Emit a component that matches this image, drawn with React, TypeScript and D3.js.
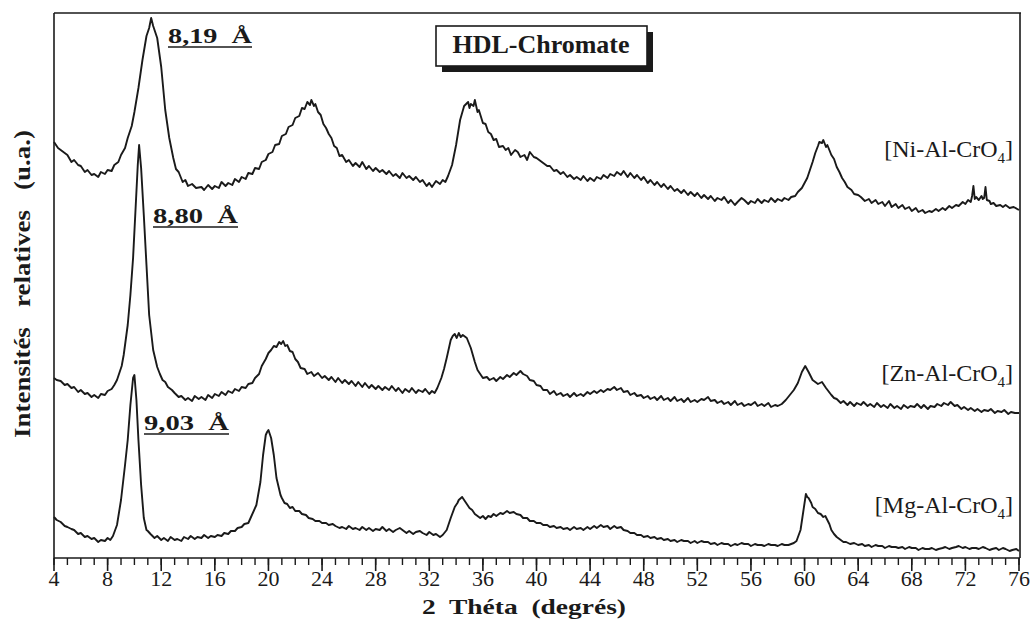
import React from "react";
import * as d3 from "d3";

// 2θ (degrés) / intensité relative (u.a., décalée par diagramme)
const niAlCrO4: [number, number][] = [
  [4.0, 416], [4.3, 410], [4.5, 408], [4.8, 405], [5.0, 403], [5.3, 396], [5.5, 398], [5.8, 393], [6.0, 392], [6.3, 386], [6.5, 388], [6.8, 383], [7.0, 384], [7.3, 381], [7.5, 386], [7.8, 384], [8.0, 388], [8.3, 387], [8.5, 393],
  [8.8, 396], [9.0, 403], [9.3, 410], [9.5, 420], [9.8, 432], [10.0, 446], [10.3, 470], [10.6, 498], [10.9, 522], [11.1, 530], [11.25, 540], [11.4, 532], [11.7, 520],
  [12.0, 491], [12.3, 448], [12.6, 420], [12.9, 400], [13.1, 389], [13.3, 386], [13.6, 376], [13.8, 378], [14.0, 372], [14.3, 374], [14.6, 370], [15.0, 371], [15.2, 368], [15.5, 373], [15.8, 369], [16.0, 372],
  [16.3, 370], [16.5, 376], [16.8, 372], [17.0, 375], [17.3, 373], [17.5, 379], [17.8, 376], [18.0, 381], [18.3, 379], [18.5, 385], [18.8, 384], [19.0, 390], [19.3, 389], [19.5, 396], [19.8, 398], [20.0, 404], [20.3, 406], [20.5, 413], [20.8, 414], [21.0, 422],
  [21.3, 424], [21.5, 431], [21.8, 433], [22.0, 440], [22.3, 442], [22.5, 450], [22.7, 449], [22.9, 456], [23.1, 453], [23.2, 458], [23.4, 452], [23.5, 454], [23.7, 446], [23.9, 443], [24.1, 434], [24.3, 430], [24.5, 424], [24.7, 420], [24.9, 412], [25.1, 410],
  [25.3, 402], [25.5, 403], [25.8, 396], [26.0, 398], [26.3, 392], [26.5, 395], [26.8, 391], [27.0, 396], [27.3, 389], [27.5, 392], [27.8, 387], [28.0, 390], [28.3, 386], [28.5, 388], [28.8, 384], [29.0, 387], [29.3, 382], [29.5, 384], [29.8, 380], [30.0, 385],
  [30.3, 380], [30.5, 382], [30.8, 378], [31.0, 381], [31.3, 376], [31.5, 378], [31.8, 372], [32.0, 375], [32.2, 371], [32.5, 377], [32.8, 374], [33.0, 378], [33.2, 376], [33.4, 382], [33.7, 393], [34.0, 413], [34.3, 438],
  [34.6, 452], [34.9, 456], [35.0, 450], [35.1, 454], [35.3, 452], [35.4, 458], [35.6, 446], [35.7, 448], [36.0, 435], [36.2, 434], [36.4, 426], [36.6, 424], [36.8, 418], [37.0, 419], [37.2, 411], [37.5, 412], [37.7, 408],
  [37.9, 410], [38.1, 403], [38.4, 408], [38.6, 406], [38.8, 401], [39.1, 403], [39.3, 398], [39.5, 406], [39.8, 401], [40.0, 400], [40.3, 397], [40.5, 395], [40.8, 392], [41.0, 392], [41.3, 387], [41.5, 388], [41.8, 384], [42.0, 386], [42.3, 381], [42.5, 383],
  [42.8, 379], [43.0, 381], [43.3, 378], [43.5, 382], [43.8, 377], [44.0, 380], [44.3, 377], [44.5, 381], [44.8, 379], [45.0, 383], [45.3, 380], [45.5, 384], [45.8, 382], [46.0, 386], [46.3, 383], [46.5, 387], [46.8, 381], [47.0, 385], [47.3, 380], [47.5, 383],
  [47.8, 378], [48.0, 381], [48.3, 375], [48.5, 378], [48.8, 373], [49.0, 376], [49.3, 371], [49.5, 374], [49.8, 369], [50.0, 372], [50.3, 367], [50.5, 369], [50.8, 365], [51.0, 368], [51.3, 363], [51.5, 366], [51.8, 362], [52.0, 365], [52.3, 360], [52.5, 363],
  [52.8, 359], [53.0, 362], [53.3, 357], [53.5, 360], [53.8, 358], [54.0, 361], [54.3, 355], [54.5, 358], [54.8, 353], [55.0, 356], [55.3, 360], [55.5, 358], [55.8, 354], [56.0, 357], [56.3, 355], [56.5, 359], [56.8, 355], [57.0, 358], [57.3, 356], [57.5, 360],
  [57.8, 356], [58.0, 359], [58.3, 357], [58.5, 360], [58.8, 358], [59.0, 361], [59.3, 362], [59.5, 366], [59.8, 370], [60.0, 375], [60.2, 380], [60.4, 388], [60.6, 396], [60.8, 405], [61.0, 412], [61.1, 416], [61.3, 415], [61.4, 418], [61.6, 411], [61.7, 413],
  [62.0, 403], [62.2, 399], [62.4, 391], [62.6, 386], [62.8, 380], [63.0, 376], [63.2, 371], [63.5, 368], [63.7, 364], [64.0, 363], [64.2, 361], [64.5, 357], [64.8, 359], [65.0, 355], [65.3, 358], [65.5, 354], [65.8, 356], [66.0, 352], [66.3, 357],
  [66.5, 351], [66.8, 354], [67.0, 350], [67.3, 353], [67.5, 349], [67.8, 351], [68.0, 347], [68.3, 350], [68.5, 346], [68.8, 348], [69.0, 345], [69.3, 347], [69.5, 346], [69.8, 349], [70.0, 347], [70.3, 350], [70.5, 348], [70.8, 352], [71.0, 350], [71.3, 353],
  [71.5, 352], [71.8, 356], [72.0, 354], [72.2, 358], [72.4, 356], [72.5, 362], [72.6, 372], [72.7, 359], [72.8, 361], [73.0, 358], [73.2, 362], [73.3, 359], [73.4, 360], [73.5, 371], [73.6, 358], [73.8, 357], [73.9, 354],
  [74.1, 355], [74.3, 352], [74.6, 353], [74.8, 351], [75.0, 353], [75.3, 350], [75.6, 351], [76.0, 348],
];

const znAlCrO4: [number, number][] = [
  [4.0, 180], [4.2, 178], [4.5, 177], [4.8, 173], [5.0, 174], [5.3, 170], [5.5, 171], [5.8, 166], [6.0, 168], [6.3, 164], [6.5, 165], [6.8, 161], [7.0, 163], [7.3, 160], [7.5, 164], [7.8, 163], [8.0, 167], [8.3, 169], [8.5, 173],
  [8.7, 178], [8.9, 186], [9.05, 192], [9.2, 203], [9.5, 233], [9.7, 263], [9.9, 300], [10.1, 353], [10.25, 393], [10.35, 413], [10.5, 390], [10.7, 343],
  [10.9, 293], [11.1, 243], [11.4, 208], [11.7, 191], [11.9, 184], [12.1, 178], [12.3, 176], [12.5, 171], [12.8, 168], [13.0, 165], [13.3, 161], [13.5, 162], [13.8, 158], [14.0, 160], [14.3, 157], [14.5, 162], [14.8, 159], [15.0, 161], [15.3, 158], [15.5, 163],
  [15.8, 160], [16.0, 164], [16.3, 162], [16.5, 166], [16.8, 163], [17.0, 167], [17.3, 165], [17.5, 169], [17.8, 167], [18.0, 171], [18.3, 170], [18.5, 174], [18.8, 175], [19.0, 180], [19.3, 184], [19.5, 192], [19.8, 199],
  [20.0, 205], [20.2, 208], [20.4, 212], [20.6, 211], [20.8, 216], [20.95, 214], [21.1, 217], [21.25, 212], [21.4, 213], [21.6, 207], [21.8, 206], [22.0, 199], [22.2, 196], [22.4, 190], [22.7, 189], [22.9, 184], [23.2, 186], [23.4, 182], [23.7, 185],
  [24.0, 180], [24.2, 182], [24.5, 178], [24.7, 181], [25.0, 176], [25.2, 180], [25.5, 175], [25.7, 178], [26.0, 174], [26.2, 177], [26.5, 172], [26.7, 176], [27.0, 171], [27.2, 175], [27.5, 170], [27.7, 173], [28.0, 169], [28.2, 172], [28.5, 168], [28.7, 171],
  [29.0, 168], [29.2, 172], [29.5, 167], [29.7, 170], [30.0, 165], [30.2, 169], [30.5, 166], [30.7, 170], [31.0, 165], [31.2, 168], [31.5, 166], [31.7, 169], [32.0, 164], [32.2, 167], [32.4, 165], [32.6, 170], [32.9, 180], [33.1, 189], [33.3, 200],
  [33.6, 218], [33.75, 222], [33.9, 224], [34.05, 220], [34.2, 225], [34.35, 221], [34.5, 223], [34.8, 220], [35.1, 210], [35.4, 196], [35.6, 188], [35.8, 184], [36.0, 180], [36.3, 181], [36.5, 178], [36.8, 180],
  [37.0, 177], [37.3, 181], [37.5, 179], [37.8, 183], [38.0, 181], [38.3, 185], [38.5, 183], [38.8, 187], [39.0, 184], [39.3, 182], [39.5, 178], [39.8, 177], [40.0, 173], [40.3, 172], [40.5, 168], [40.8, 168], [41.0, 164], [41.3, 167], [41.5, 163], [41.8, 165],
  [42.0, 162], [42.3, 164], [42.5, 161], [42.8, 165], [43.0, 162], [43.3, 164], [43.5, 162], [43.8, 166], [44.0, 164], [44.3, 167], [44.5, 165], [44.8, 168], [45.0, 166], [45.3, 169], [45.5, 168], [45.8, 171], [46.0, 168], [46.3, 170], [46.5, 166], [46.8, 167],
  [47.0, 163], [47.3, 165], [47.5, 162], [47.8, 163], [48.0, 160], [48.3, 162], [48.5, 159], [48.8, 161], [49.0, 158], [49.3, 162], [49.5, 158], [49.8, 160], [50.0, 157], [50.3, 161], [50.5, 157], [50.8, 159], [51.0, 156], [51.3, 160], [51.5, 156], [51.8, 158],
  [52.0, 156], [52.3, 159], [52.5, 158], [52.8, 161], [53.0, 157], [53.3, 158], [53.5, 155], [53.8, 157], [54.0, 154], [54.3, 156], [54.5, 153], [54.8, 157], [55.0, 153], [55.3, 155], [55.5, 152], [55.8, 154], [56.0, 153], [56.3, 156], [56.5, 152], [56.8, 154],
  [57.0, 152], [57.3, 155], [57.5, 151], [57.8, 153], [58.0, 152], [58.3, 154], [58.6, 158], [58.9, 163], [59.2, 168], [59.5, 175], [59.8, 186], [60.05, 192], [60.3, 186],
  [60.6, 178], [61.0, 174], [61.3, 176], [61.6, 170], [62.0, 163], [62.2, 160], [62.4, 159], [62.7, 155], [62.9, 157], [63.2, 153], [63.4, 156], [63.7, 152], [63.9, 155], [64.2, 153], [64.4, 156],
  [64.7, 152], [64.9, 154], [65.2, 151], [65.4, 155], [65.7, 151], [65.9, 153], [66.2, 150], [66.4, 154], [66.7, 150], [66.9, 152], [67.2, 149], [67.4, 153], [67.7, 150], [67.9, 152], [68.2, 151], [68.4, 154], [68.7, 150], [68.9, 153], [69.2, 149], [69.4, 152],
  [69.7, 151], [69.9, 154], [70.2, 152], [70.4, 155], [70.7, 153], [70.9, 156], [71.2, 152], [71.4, 153], [71.7, 149], [71.9, 151], [72.2, 148], [72.4, 150], [72.7, 147], [72.9, 149], [73.2, 146], [73.4, 148], [73.7, 147], [73.9, 149], [74.2, 145], [74.4, 147],
  [74.7, 146], [74.9, 148], [75.2, 144], [75.4, 146], [75.7, 145], [76.0, 145],
];

const mgAlCrO4: [number, number][] = [
  [4.0, 41], [4.2, 38], [4.5, 36], [4.8, 32], [5.0, 31], [5.3, 29], [5.5, 28], [5.8, 24], [6.0, 25], [6.3, 21], [6.5, 22], [6.8, 19], [7.0, 20], [7.3, 16], [7.5, 18], [7.8, 17], [8.0, 20], [8.2, 18], [8.4, 22],
  [8.7, 33], [9.0, 58], [9.3, 93], [9.5, 118], [9.7, 153], [9.9, 180], [10.0, 183], [10.15, 158], [10.3, 118], [10.5, 73],
  [10.7, 40], [10.9, 28], [11.0, 27], [11.2, 24], [11.5, 20], [11.7, 22], [12.0, 18], [12.2, 20], [12.5, 17], [12.7, 21], [13.0, 18], [13.2, 19], [13.5, 17], [13.7, 21], [14.0, 19], [14.2, 22], [14.5, 19], [14.7, 21],
  [15.0, 20], [15.2, 23], [15.5, 20], [15.7, 22], [16.0, 21], [16.2, 23], [16.5, 22], [16.7, 25], [17.0, 24], [17.2, 27], [17.5, 27], [17.7, 30], [18.0, 31], [18.2, 34], [18.5, 35], [18.7, 41], [19.1, 53], [19.4, 76],
  [19.6, 103], [19.8, 123], [19.9, 126], [20.0, 128], [20.1, 124], [20.2, 120], [20.4, 103], [20.6, 80], [20.9, 63], [21.0, 60], [21.2, 55], [21.4, 54], [21.6, 50], [21.8, 51], [22.0, 47],
  [22.3, 47], [22.5, 44], [22.8, 43], [23.0, 40], [23.3, 39], [23.5, 37], [23.8, 37], [24.0, 35], [24.3, 35], [24.5, 33], [24.8, 34], [25.0, 32], [25.3, 30], [25.5, 31], [25.8, 29], [26.0, 32], [26.3, 29], [26.5, 30], [26.8, 28], [27.0, 31],
  [27.3, 28], [27.5, 30], [27.8, 27], [28.0, 29], [28.3, 28], [28.5, 31], [28.8, 27], [29.0, 29], [29.3, 26], [29.5, 28], [29.8, 30], [30.0, 28], [30.3, 25], [30.5, 27], [30.8, 24], [31.0, 26], [31.3, 27], [31.5, 25], [31.8, 23], [32.0, 26],
  [32.3, 23], [32.5, 24], [32.8, 21], [33.0, 23], [33.3, 28], [33.6, 40], [33.9, 51], [34.1, 55], [34.2, 58], [34.45, 61], [34.7, 56], [35.0, 50], [35.2, 48], [35.4, 44], [35.6, 42],
  [35.8, 40], [36.0, 42], [36.2, 39], [36.4, 42], [36.6, 41], [36.8, 44], [37.0, 42], [37.3, 45], [37.5, 44], [37.8, 47], [38.0, 45], [38.3, 46], [38.5, 44], [38.8, 43], [39.0, 40], [39.3, 40], [39.5, 37], [39.8, 37], [40.0, 35],
  [40.3, 35], [40.5, 33], [40.8, 33], [41.0, 31], [41.3, 32], [41.5, 30], [41.8, 31], [42.0, 29], [42.3, 30], [42.5, 28], [42.8, 31], [43.0, 29], [43.3, 30], [43.5, 28], [43.8, 31], [44.0, 29], [44.3, 32], [44.5, 30], [44.8, 33], [45.0, 31],
  [45.3, 32], [45.5, 29], [45.8, 32], [46.0, 30], [46.3, 31], [46.5, 28], [46.8, 27], [47.0, 25], [47.3, 25], [47.5, 23], [47.8, 23], [48.0, 21], [48.3, 22], [48.5, 20], [48.8, 21], [49.0, 19], [49.3, 20], [49.5, 18], [49.8, 19], [50.0, 17],
  [50.3, 18], [50.5, 16], [50.8, 18], [51.0, 17], [51.3, 17], [51.5, 15], [51.8, 17], [52.0, 15], [52.3, 17], [52.5, 16], [52.8, 16], [53.0, 14], [53.3, 15], [53.5, 13], [53.8, 15], [54.0, 14], [54.3, 14], [54.5, 12], [54.8, 14], [55.0, 13],
  [55.3, 15], [55.5, 14], [55.8, 14], [56.0, 12], [56.3, 14], [56.5, 13], [56.8, 13], [57.0, 12], [57.3, 14], [57.5, 13], [57.8, 13], [58.0, 12], [58.3, 14], [58.5, 13], [58.8, 13], [59.0, 14], [59.2, 15], [59.4, 17], [59.7, 28],
  [59.9, 46], [60.1, 64], [60.2, 61], [60.3, 60], [60.5, 55], [60.6, 51], [60.8, 49], [61.0, 45], [61.2, 44], [61.4, 41], [61.55, 42], [61.7, 38], [61.85, 34], [62.0, 28], [62.2, 24], [62.4, 21], [62.6, 19], [62.9, 16],
  [63.1, 16], [63.4, 14], [63.7, 15], [64.0, 13], [64.3, 14], [64.5, 12], [64.8, 13], [65.0, 11], [65.3, 13], [65.5, 12], [65.8, 12], [66.0, 10], [66.3, 12], [66.5, 11], [66.8, 11], [67.0, 10], [67.3, 11], [67.5, 9], [67.8, 11], [68.0, 10],
  [68.3, 10], [68.5, 8], [68.8, 10], [69.0, 9], [69.3, 9], [69.5, 10], [69.8, 8], [70.0, 9], [70.3, 10], [70.5, 11], [70.8, 9], [71.0, 10], [71.3, 11], [71.5, 12], [71.8, 10], [72.0, 11], [72.3, 9], [72.5, 10], [72.8, 10], [73.0, 9],
  [73.3, 11], [73.5, 10], [73.8, 8], [74.0, 9], [74.3, 10], [74.5, 8], [74.8, 10], [75.0, 9], [75.3, 7], [75.5, 8], [75.8, 9], [76.0, 7],
];

const seriesNames = ["Ni-Al-CrO", "Zn-Al-CrO", "Mg-Al-CrO"];
const majorTicks = [4, 8, 12, 16, 20, 24, 28, 32, 36, 40, 44, 48, 52, 56, 60, 64, 68, 72, 76];
const minorTicks = d3.range(4, 77, 1);
const spacingLabels = ["8,19  Å", "8,80  Å", "9,03  Å"];

const W = 1032;
const H = 619;
const L = 54, R = 1019, T = 13, B = 558;
const FONT = '"Liberation Serif", "Times New Roman", Times, serif';
const INK = "#1a1a1a";

export default function App() {
  const x = d3.scaleLinear().domain([4, 76]).range([L, R]);
  const y = d3.scaleLinear().domain([0, 545]).range([B, T]);
  const line = d3
    .line<[number, number]>()
    .x((d) => x(d[0]))
    .y((d) => y(d[1]));

  const patterns = [niAlCrO4, znAlCrO4, mgAlCrO4];
  const seriesLabelY = [157, 381, 513];
  const spacingPos = [
    { x: 168, y: 43, w: 84 },
    { x: 153, y: 223, w: 85 },
    { x: 144, y: 430, w: 85 },
  ];
  const ts: React.CSSProperties = { fontFamily: FONT };

  return (
    <svg
      width={W}
      height={H}
      style={{ position: "absolute", left: 0, top: 0, background: "#fff", fontFamily: FONT }}
    >
      <rect x={0} y={0} width={W} height={H} fill="#fff" />
      {/* frame */}
      <line x1={L} y1={T} x2={R + 2} y2={T} stroke={INK} strokeWidth={1.6} />
      <line x1={R + 1} y1={T} x2={R + 1} y2={B} stroke={INK} strokeWidth={1.6} />
      <line x1={L} y1={T} x2={L} y2={B} stroke={INK} strokeWidth={1.6} />
      <line x1={L} y1={B} x2={R + 1} y2={B} stroke={INK} strokeWidth={1.6} />

      {/* ticks */}
      {minorTicks.map((t) => (
        <line key={"m" + t} x1={x(t)} x2={x(t)} y1={B} y2={B + 7} stroke={INK} strokeWidth={1.4} />
      ))}
      {majorTicks.map((t) => (
        <g key={"M" + t}>
          <line x1={x(t)} x2={x(t)} y1={B} y2={B + 13} stroke={INK} strokeWidth={1.6} />
          <text x={x(t)} y={586} fontSize={22} textAnchor="middle" fill={INK} style={ts}>
            {t}
          </text>
        </g>
      ))}

      {/* axis titles */}
      <text
        x={422}
        y={614}
        fontSize={22}
        fontWeight="bold"
        fill={INK}
        textLength={204}
        lengthAdjust="spacingAndGlyphs"
        xmlSpace="preserve"
        style={ts}
      >
        2  Théta  (degrés)
      </text>
      <text
        transform={`translate(30, 438) rotate(-90)`}
        fontSize={24}
        fontWeight="bold"
        fill={INK}
        textLength={308}
        lengthAdjust="spacingAndGlyphs"
        xmlSpace="preserve"
        style={ts}
      >
        Intensités   relatives   (u.a.)
      </text>

      {/* patterns */}
      {patterns.map((p, i) => (
        <path
          key={i}
          d={line(p) || ""}
          fill="none"
          stroke={INK}
          strokeWidth={1.9}
          strokeLinejoin="round"
        />
      ))}

      {/* series labels */}
      {seriesNames.map((n, i) => (
        <text key={n} x={1013} y={seriesLabelY[i]} fontSize={24} textAnchor="end" fill={INK} style={ts}>
          [{n}
          <tspan fontSize={15} dy={6}>4</tspan>
          <tspan dy={-6}>]</tspan>
        </text>
      ))}

      {/* d-spacing labels */}
      {spacingLabels.map((s, i) => (
        <g key={s}>
          <text
            x={spacingPos[i].x}
            y={spacingPos[i].y}
            fontSize={22}
            fontWeight="bold"
            fill={INK}
            textLength={spacingPos[i].w}
            lengthAdjust="spacingAndGlyphs"
            xmlSpace="preserve"
            style={ts}
          >
            {s}
          </text>
          <line
            x1={spacingPos[i].x}
            x2={spacingPos[i].x + spacingPos[i].w}
            y1={spacingPos[i].y + 4}
            y2={spacingPos[i].y + 4}
            stroke={INK}
            strokeWidth={1.6}
          />
        </g>
      ))}

      {/* title box */}
      <rect x={442} y={32} width={211} height={40} fill={INK} />
      <rect x={436} y={26} width={211} height={40} fill="#fff" stroke={INK} strokeWidth={1.6} />
      <text x={541} y={53} fontSize={26} fontWeight="bold" textAnchor="middle" fill={INK} style={ts}>
        HDL-Chromate
      </text>
    </svg>
  );
}
